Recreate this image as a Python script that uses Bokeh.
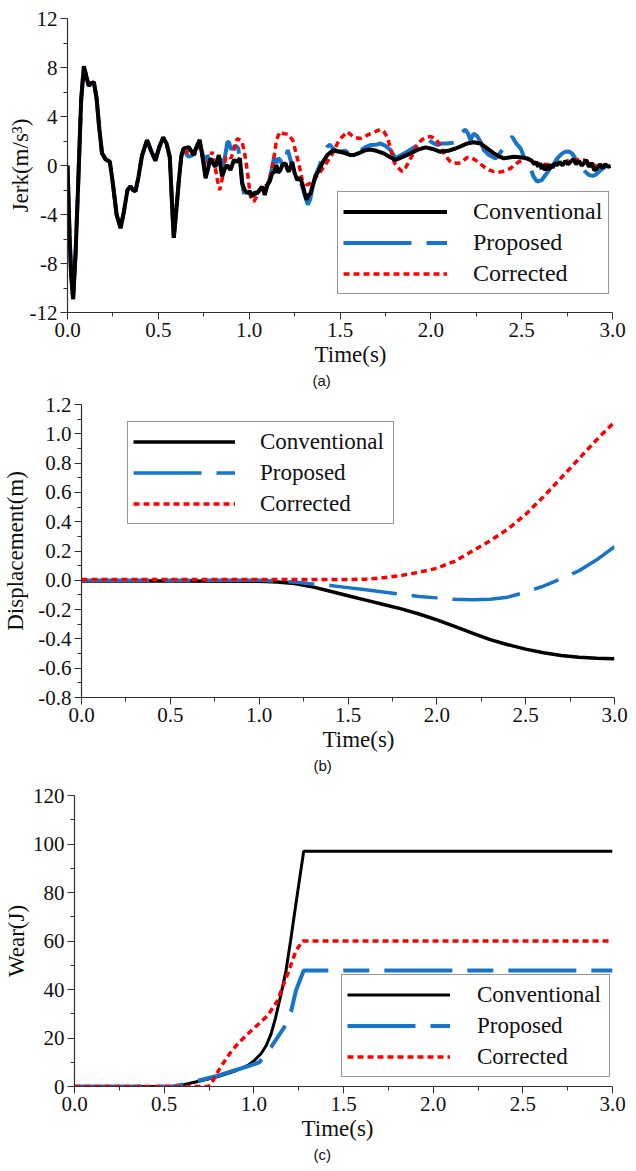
from bokeh.plotting import figure
from bokeh.models import Range1d, FixedTicker, Legend, LegendItem, Title
from bokeh.embed import file_html
from bokeh.resources import INLINE

SERIF = "Liberation Serif"
SANS = "Liberation Sans"
BLACK = "#000000"
BLUE = "#1874c8"
RED = "#ff0000"

series_names = ["Conventional", "Proposed", "Corrected"]

# ---------------- (a) Jerk ----------------
jerk_common_t = [0.0, 0.01, 0.02, 0.031, 0.045, 0.06, 0.075, 0.09, 0.105, 0.117, 0.13, 0.145,
                 0.16, 0.175, 0.19, 0.21, 0.233, 0.25, 0.27, 0.292, 0.31, 0.33, 0.347, 0.36,
                 0.374, 0.39, 0.41, 0.438, 0.46, 0.484, 0.505, 0.527, 0.545, 0.563, 0.575,
                 0.585, 0.597, 0.613, 0.627, 0.64]
jerk_common_v = [0.0, -5.0, -9.0, -10.9, -7.0, -1.0, 5.3, 8.1, 7.2, 6.5, 6.7, 6.8,
                 5.5, 3.0, 1.0, 0.5, 0.3, -1.5, -4.0, -5.1, -3.8, -2.0, -1.7, -2.0,
                 -2.1, -1.0, 0.8, 2.07, 1.2, 0.4, 1.5, 2.3, 1.8, 0.7, -3.0,
                 -5.9, -4.0, -1.2, 0.8, 1.4]

jerk_conv_tail_t = [0.668, 0.695, 0.712, 0.728, 0.745, 0.76, 0.775, 0.787, 0.80, 0.815, 0.833, 0.851,
                    0.865, 0.879, 0.897, 0.916, 0.932, 0.949, 0.961, 0.975, 0.989, 1.003, 1.017, 1.03,
                    1.044, 1.058, 1.072, 1.086, 1.10, 1.113, 1.127, 1.14, 1.15, 1.16, 1.172, 1.185,
                    1.2, 1.21, 1.218, 1.237, 1.25, 1.264, 1.278, 1.292, 1.305, 1.316, 1.327, 1.338,
                    1.35, 1.365, 1.38, 1.393, 1.41, 1.43, 1.45, 1.466, 1.485, 1.503, 1.53, 1.558,
                    1.576, 1.61, 1.64, 1.668, 1.70, 1.741, 1.775, 1.806, 1.845, 1.888, 1.93, 1.971,
                    2.01, 2.053, 2.095, 2.136, 2.17, 2.2, 2.235, 2.273, 2.31, 2.347, 2.375, 2.402,
                    2.43, 2.457, 2.49, 2.53, 2.555, 2.57, 2.58, 2.59, 2.60, 2.61, 2.62, 2.63,
                    2.64, 2.65, 2.66, 2.67, 2.68, 2.696, 2.71, 2.725, 2.74, 2.755, 2.769, 2.785,
                    2.80, 2.815, 2.83, 2.842, 2.855, 2.87, 2.885, 2.90, 2.916, 2.93, 2.945, 2.96,
                    2.975, 2.99]
jerk_conv_tail_v = [1.5, 0.85, 1.6, 2.1, 0.5, -1.04, -0.2, 0.58, 0.2, -0.1, 0.85, -0.9,
                    -0.3, 0.04, -0.37, 0.45, 0.3, 0.58, -1.45, -2.0, -2.26, -2.1, -2.54, -2.2,
                    -2.26, -2.0, -1.72, -2.4, -1.6, -1.3, -0.64, -0.5, 0.04, -0.6, -0.37, 0.1,
                    0.18, -0.3, -0.5, 0.3, -0.6, -1.18, -1.0, -1.45, -2.2, -2.8, -2.4, -2.26,
                    -1.6, -0.9, -0.5, -0.1, 0.4, 0.85, 1.1, 1.26, 1.15, 1.12, 1.0, 0.85,
                    0.85, 1.05, 1.25, 1.31, 1.2, 0.99, 0.7, 0.45, 0.7, 0.99, 1.3, 1.48,
                    1.35, 1.12, 1.2, 1.39, 1.6, 1.8, 1.9, 1.8, 1.4, 0.99, 0.75, 0.58,
                    0.65, 0.72, 0.68, 0.58, 0.4, 0.1, 0.3, -0.1, 0.2, -0.3, 0.1, -0.4,
                    0.0, -0.35, 0.1, -0.2, 0.15, 0.04, 0.3, 0.0, 0.35, 0.1, 0.3, 0.5,
                    0.1, 0.4, 0.0, 0.18, 0.45, -0.1, 0.2, -0.4, -0.23, 0.1, -0.2, 0.1,
                    -0.1, -0.04]

jerk_prop_tail_t = [0.655, 0.668, 0.685, 0.70, 0.715, 0.728, 0.745, 0.76, 0.769, 0.785, 0.80, 0.815,
                    0.828, 0.84, 0.855, 0.87, 0.88, 0.888, 0.90, 0.915, 0.928, 0.94, 0.955, 0.967,
                    0.98, 0.995, 1.01, 1.03, 1.05, 1.07, 1.09, 1.11, 1.125, 1.136, 1.15, 1.16,
                    1.172, 1.19, 1.2, 1.213, 1.225, 1.237, 1.255, 1.27, 1.29, 1.305, 1.323, 1.335,
                    1.35, 1.365, 1.38, 1.40, 1.415, 1.43, 1.445, 1.46, 1.48, 1.503, 1.53, 1.558,
                    1.576, 1.61, 1.64, 1.668, 1.70, 1.723, 1.75, 1.778, 1.806, 1.83, 1.87, 1.91,
                    1.943, 1.98, 2.005, 2.035, 2.06, 2.09, 2.12, 2.145, 2.163, 2.19, 2.205, 2.218,
                    2.236, 2.255, 2.275, 2.292, 2.32, 2.356, 2.385, 2.405, 2.42, 2.435, 2.448, 2.47,
                    2.494, 2.52, 2.549, 2.565, 2.585, 2.61, 2.63, 2.65, 2.675, 2.696, 2.72, 2.74,
                    2.76, 2.776, 2.80, 2.824, 2.85, 2.87, 2.89, 2.906, 2.93, 2.95, 2.97, 2.99]
jerk_prop_tail_v = [0.9, 0.72, 0.8, 1.2, 1.5, 1.8, 0.9, -0.5, 0.85, 0.3, 0.5, -0.5,
                    -0.2, 0.6, -0.3, 1.0, 1.9, 1.93, 1.3, 1.5, 1.6, 1.4, -0.3, -2.0,
                    -2.67, -2.5, -2.3, -2.4, -2.1, -1.8, -2.0, -1.2, -0.3, 0.58, 0.2, 0.6,
                    0.4, -0.2, 0.6, 1.26, 0.6, -0.1, -0.6, -1.3, -1.6, -2.4, -3.2, -2.8,
                    -1.7, -0.8, -0.3, 0.5, 1.0, 1.53, 1.7, 1.4, 1.2, 1.12, 1.2, 0.9,
                    0.85, 1.2, 1.5, 1.67, 1.7, 1.8, 1.6, 1.26, 0.58, 0.8, 1.12, 1.5,
                    1.8, 2.2, 1.9, 1.67, 1.8, 1.8, 1.85, 1.93, 2.6, 2.94, 2.6, 2.07,
                    2.6, 2.4, 1.9, 1.26, 0.85, 0.58, 1.1, 1.6, 1.93, 2.2, 2.34, 1.8,
                    1.4, 0.45, -0.23, -0.9, -1.32, -1.2, -0.8, -0.37, 0.1, 0.58, 0.95, 1.12,
                    1.15, 1.0, 0.5, -0.1, -0.5, -0.77, -0.85, -0.77, -0.45, -0.2, -0.05, 0.0]

jerk_corr_tail_t = [0.655, 0.668, 0.685, 0.70, 0.715, 0.728, 0.745, 0.758, 0.769, 0.783, 0.796, 0.81,
                    0.825, 0.838, 0.85, 0.87, 0.885, 0.90, 0.915, 0.934, 0.96, 0.975, 0.989, 1.007,
                    1.026, 1.045, 1.062, 1.08, 1.10, 1.115, 1.127, 1.14, 1.15, 1.169, 1.19, 1.213,
                    1.24, 1.258, 1.273, 1.292, 1.319, 1.34, 1.356, 1.393, 1.43, 1.46, 1.485, 1.51,
                    1.54, 1.576, 1.613, 1.64, 1.668, 1.70, 1.723, 1.74, 1.76, 1.775, 1.787, 1.80,
                    1.815, 1.842, 1.86, 1.879, 1.90, 1.925, 1.95, 1.98, 2.0, 2.025, 2.045, 2.062,
                    2.085, 2.108, 2.13, 2.154, 2.18, 2.2, 2.22, 2.245, 2.27, 2.292, 2.32, 2.347,
                    2.37, 2.393, 2.42, 2.44, 2.46, 2.484, 2.51, 2.53, 2.555, 2.585, 2.62, 2.66,
                    2.71, 2.769, 2.80, 2.842, 2.88, 2.916, 2.95, 2.99]
jerk_corr_tail_v = [1.0, 1.3, 1.0, 0.9, 1.5, 1.5, 0.6, -0.2, -0.1, 0.6, 1.12, 0.2,
                    -1.2, -2.0, -1.2, 0.58, 0.8, 0.6, 1.2, 2.2, 2.0, 1.0, -0.37, -2.54,
                    -2.95, -2.4, -1.86, -1.7, -1.6, -1.0, -0.1, 1.0, 2.07, 2.75, 2.6, 2.56,
                    2.07, 1.0, 0.18, -1.18, -1.59, -1.4, -1.18, -0.5, 0.3, 1.0, 1.8, 2.3,
                    2.75, 2.3, 2.2, 2.4, 2.6, 2.8, 2.94, 2.8, 2.34, 1.6, 0.85, 0.2,
                    -0.1, -0.5, -0.2, 0.3, 0.9, 1.67, 2.1, 2.34, 2.35, 2.2, 1.8, 1.26,
                    0.7, 0.3, 0.2, 0.18, 0.4, 0.66, 0.65, 0.45, 0.15, -0.1, -0.35, -0.5,
                    -0.55, -0.5, -0.35, -0.23, 0.05, 0.3, 0.5, 0.58, 0.4, 0.18, 0.1, 0.05,
                    0.2, 0.45, 0.5, 0.45, 0.2, -0.1, 0.0, 0.0]

# ---------------- (b) Displacement ----------------
disp_t = [0.0, 0.5, 1.0, 1.1, 1.2, 1.3, 1.4, 1.5, 1.6, 1.7, 1.8, 1.9, 2.0, 2.1, 2.2, 2.3,
          2.4, 2.5, 2.6, 2.7, 2.8, 2.9, 3.0]
disp_conv = [-0.005, -0.005, -0.007, -0.012, -0.022, -0.045, -0.075, -0.105, -0.135, -0.165, -0.195,
             -0.23, -0.27, -0.315, -0.36, -0.405, -0.44, -0.47, -0.495, -0.513, -0.525, -0.532, -0.535]
disp_prop = [0.0, 0.0, 0.0, -0.005, -0.012, -0.025, -0.035, -0.05, -0.065, -0.08, -0.095,
             -0.11, -0.12, -0.13, -0.133, -0.13, -0.115, -0.08, -0.04, 0.01, 0.065, 0.14, 0.23]
disp_corr = [0.005, 0.005, 0.005, 0.005, 0.005, 0.005, 0.005, 0.005, 0.008, 0.018, 0.033,
             0.055, 0.082, 0.13, 0.2, 0.27, 0.35, 0.45, 0.57, 0.7, 0.83, 0.96, 1.08]

# ---------------- (c) Wear ----------------
wear_conv_t = [0.0, 0.55, 0.614, 0.7, 0.8, 0.9, 0.967, 1.0, 1.04, 1.07, 1.096, 1.12, 1.152,
               1.18, 1.208, 1.23, 1.254, 1.278, 3.0]
wear_conv_v = [0.0, 0.0, 0.8, 2.3, 4.1, 6.5, 8.7, 10.5, 13.5, 17.0, 21.7, 28.0, 38.2,
               48.0, 61.6, 73.0, 85.0, 97.0, 97.0]
wear_prop_t = [0.0, 0.55, 0.6, 0.7, 0.8, 0.9, 0.967, 1.031, 1.06, 1.096, 1.13, 1.17, 1.208,
               1.235, 1.278, 3.0]
wear_prop_v = [0.0, 0.0, 0.7, 2.6, 4.5, 6.8, 8.3, 10.0, 12.8, 16.2, 20.0, 24.5, 31.0,
               39.6, 47.8, 47.8]
wear_corr_t = [0.0, 0.745, 0.762, 0.79, 0.827, 0.87, 0.91, 0.95, 0.985, 1.03, 1.078, 1.133,
               1.16, 1.189, 1.235, 1.272, 3.0]
wear_corr_v = [0.0, 0.0, 0.8, 5.0, 9.4, 14.0, 17.6, 20.5, 23.0, 26.0, 29.3, 35.5,
               41.0, 46.5, 56.0, 60.0, 60.0]

# ---------------- ticks ----------------
time_ticks = [0.0, 0.5, 1.0, 1.5, 2.0, 2.5, 3.0]
time_labels = ["0.0", "0.5", "1.0", "1.5", "2.0", "2.5", "3.0"]
time_minor = [0.25, 0.75, 1.25, 1.75, 2.25, 2.75]
jerk_ticks = [-12, -8, -4, 0, 4, 8, 12]
jerk_labels = ["-12", "-8", "-4", "0", "4", "8", "12"]
jerk_minor = [-10, -6, -2, 2, 6, 10]
disp_ticks = [-0.8, -0.6, -0.4, -0.2, 0.0, 0.2, 0.4, 0.6, 0.8, 1.0, 1.2]
disp_labels = ["-0.8", "-0.6", "-0.4", "-0.2", "0.0", "0.2", "0.4", "0.6", "0.8", "1.0", "1.2"]
disp_minor = [-0.7, -0.5, -0.3, -0.1, 0.1, 0.3, 0.5, 0.7, 0.9, 1.1]
wear_ticks = [0, 20, 40, 60, 80, 100, 120]
wear_labels = ["0", "20", "40", "60", "80", "100", "120"]
wear_minor = [10, 30, 50, 70, 90, 110]


def make_fig(height, left, right, top, bottom, yr, yticks, ylabels, yminor, ylabel, ystandoff):
    p = figure(width=636, height=height, output_backend="svg", toolbar_location=None,
               x_range=Range1d(0, 3), y_range=Range1d(*yr),
               min_border_left=left, min_border_right=right,
               min_border_top=top, min_border_bottom=bottom)
    p.outline_line_color = None
    p.grid.visible = False
    p.xaxis.ticker = FixedTicker(ticks=time_ticks, minor_ticks=time_minor)
    p.xaxis.major_label_overrides = dict(zip(time_ticks, time_labels))
    p.yaxis.ticker = FixedTicker(ticks=yticks, minor_ticks=yminor)
    p.yaxis.major_label_overrides = dict(zip(yticks, ylabels))
    for ax in (p.xaxis[0], p.yaxis[0]):
        ax.axis_line_color = "#303030"
        ax.axis_line_width = 1.2
        ax.major_tick_line_color = "#303030"
        ax.minor_tick_line_color = "#303030"
        ax.major_tick_in = 0
        ax.minor_tick_in = 0
        ax.major_tick_out = 7
        ax.minor_tick_out = 4
        ax.major_label_text_font = SERIF
        ax.major_label_text_font_size = "21px"
        ax.major_label_text_color = "#111111"
        ax.major_label_standoff = 3
    p.yaxis.axis_label = ylabel
    p.yaxis.axis_label_text_font = SERIF
    p.yaxis.axis_label_text_font_size = "23px"
    p.yaxis.axis_label_text_font_style = "normal"
    p.yaxis.axis_label_text_color = "#111111"
    p.yaxis.axis_label_standoff = ystandoff
    return p


def add_bottom_titles(p, time_offset, cap, cap_offset):
    t1 = Title(text="Time(s)", align="left", offset=time_offset, text_font=SERIF,
               text_font_size="23px", text_font_style="normal", text_color="#111111", standoff=0)
    p.add_layout(t1, "below")
    t2 = Title(text=cap, align="left", offset=cap_offset, text_font=SANS,
               text_font_size="15px", text_font_style="normal", text_color="#111111", standoff=7)
    p.add_layout(t2, "below")


def add_legend(p, renderers, loc, glyph_w, standoff, label_width, font_size):
    items = [LegendItem(label=n, renderers=[r]) for n, r in zip(series_names, renderers)]
    lg = Legend(items=items, location=loc, border_line_color="#303030", border_line_width=1,
                background_fill_alpha=1.0, padding=5, spacing=2, margin=0,
                glyph_width=glyph_w, glyph_height=29, label_height=29, label_standoff=standoff,
                label_width=label_width, label_text_font=SERIF, label_text_font_size=font_size,
                label_text_color="#111111")
    p.add_layout(lg)


# (a)
pa = make_fig(392, 67, 24, 18, 79, (-12, 12), jerk_ticks, jerk_labels, jerk_minor, "Jerk(m/s³)", -6)
rb = pa.line(jerk_common_t + jerk_prop_tail_t, jerk_common_v + jerk_prop_tail_v,
             line_color=BLUE, line_width=4, line_dash="68 15 26 15")
rr = pa.line(jerk_common_t + jerk_corr_tail_t, jerk_common_v + jerk_corr_tail_v,
             line_color=RED, line_width=3.5, line_dash="6 4")
rk = pa.line(jerk_common_t + jerk_conv_tail_t, jerk_common_v + jerk_conv_tail_v,
             line_color=BLACK, line_width=4)
add_legend(pa, [rk, rb, rr], (270, 18), 104, 26, 130, "24px")
add_bottom_titles(pa, 247, "(a)", 245)

# (b)
pb = make_fig(390, 80, 22, 12, 85, (-0.8, 1.2), disp_ticks, disp_labels, disp_minor, "Displacement(m)", 7)
rk2 = pb.line(disp_t, disp_conv, line_color=BLACK, line_width=3.5)
rb2 = pb.line(disp_t, disp_prop, line_color=BLUE, line_width=3.5, line_dash="68 15 26 15")
rr2 = pb.line(disp_t, disp_corr, line_color=RED, line_width=3.5, line_dash="6 4")
add_legend(pb, [rk2, rb2, rr2], (46, 173), 102, 25, 128, "23px")
add_bottom_titles(pb, 241, "(b)", 232)

# (c)
pc = make_fig(389, 73, 24, 13, 85, (0, 120), wear_ticks, wear_labels, wear_minor, "Wear(J)", 1)
rk3 = pc.line(wear_conv_t, wear_conv_v, line_color=BLACK, line_width=3)
rb3 = pc.line(wear_prop_t, wear_prop_v, line_color=BLUE, line_width=4, line_dash="68 15 26 15")
rr3 = pc.line(wear_corr_t, wear_corr_v, line_color=RED, line_width=3.5, line_dash="6 4")
add_legend(pc, [rk3, rb3, rr3], (267, 9), 103, 27, 127, "23px")
add_bottom_titles(pc, 227, "(c)", 239)

open("out.html", "w").write(file_html([pa, pb, pc], INLINE))
